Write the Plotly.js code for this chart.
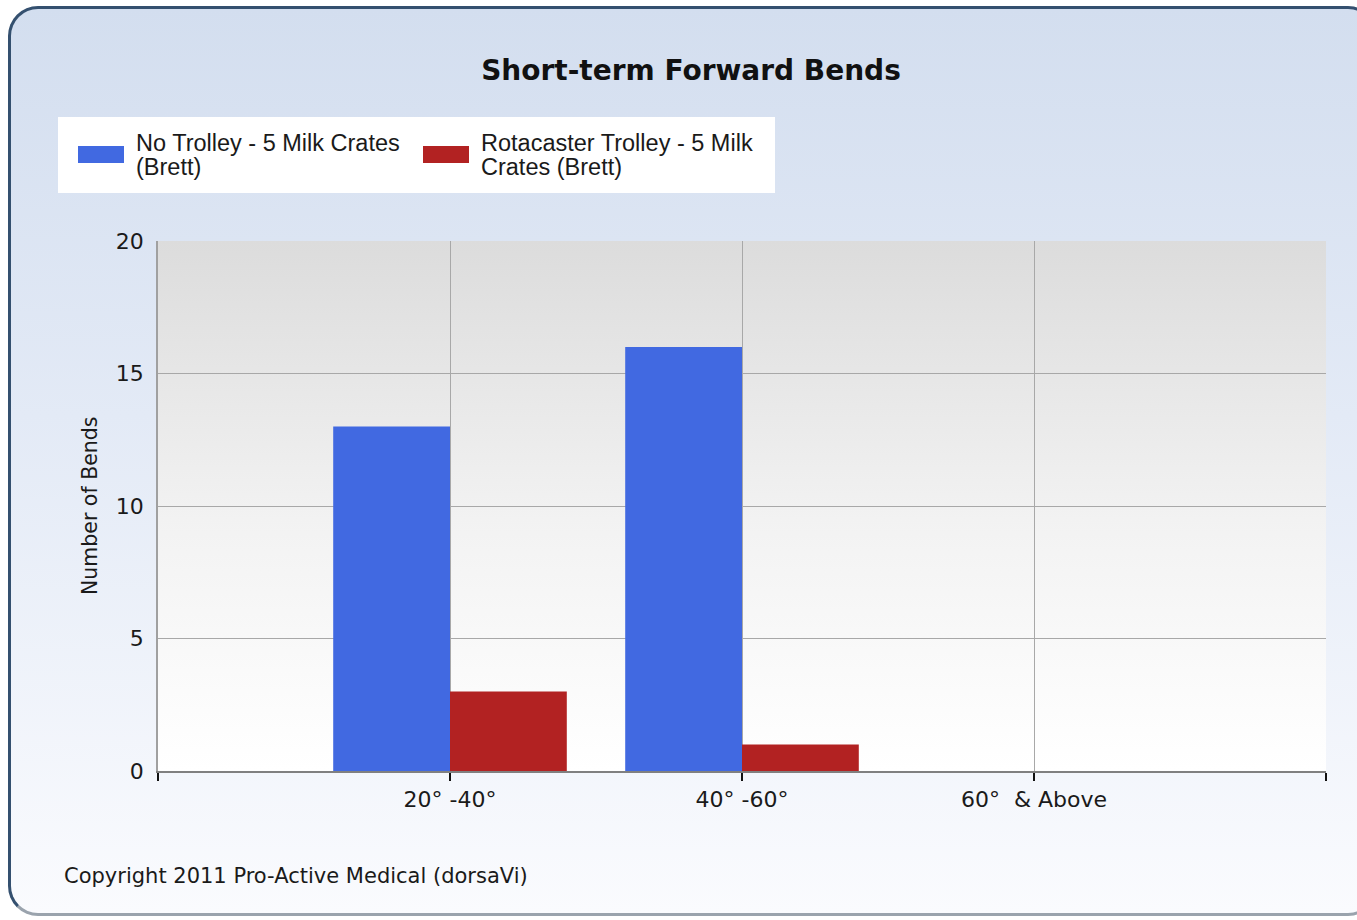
<!DOCTYPE html>
<html>
<head>
<meta charset="utf-8">
<script src="https://cdn.plot.ly/plotly-3.0.1.min.js"></script>
<style>
  html, body { margin: 0; padding: 0; width: 1357px; height: 920px; overflow: hidden; background: #ffffff; }
  #frame {
    position: absolute; left: 8px; top: 6px; width: 1370px; height: 910px;
    border: 3px solid #34506f; border-bottom-color: #9aa3ad; border-radius: 30px;
    background: linear-gradient(to bottom, #d3deef 0%, #e3eaf6 45%, #fafbfe 100%);
    box-sizing: border-box;
  }
  #plotbg {
    position: absolute; left: 158px; top: 241px; width: 1168px; height: 530px;
    background: linear-gradient(to bottom, #dcdcdc 0%, #f3f3f3 55%, #ffffff 100%);
  }
  #chart { position: absolute; left: 0; top: 0; width: 1357px; height: 920px; }
</style>
</head>
<body>
<div id="frame"></div>
<div id="plotbg"></div>
<div id="chart"></div>
<script>
// ---- data ----
const categories = ["20° -40°", "40° -60°", "60°  & Above"];
const seriesNames = ["No Trolley - 5 Milk Crates (Brett)", "Rotacaster Trolley - 5 Milk Crates (Brett)"];
const legendLines = [["No Trolley - 5 Milk Crates", "(Brett)"], ["Rotacaster Trolley - 5 Milk", "Crates (Brett)"]];
const noTrolley = [13, 16, 0];
const rotacaster = [3, 1, 0];
const seriesColors = ["#4169e1", "#b22222"];
const yTicks = [0, 5, 10, 15, 20];
const chartTitle = "Short-term Forward Bends";
const yTitle = "Number of Bends";
const copyright = "Copyright 2011 Pro-Active Medical (dorsaVi)";

// ---- layout helpers ----
const W = 1357, H = 920;
const M = { l: 158, r: 31, t: 241, b: 149 };
const PW = W - M.l - M.r, PH = H - M.t - M.b;
const px = x => (x - M.l) / PW;
const py = y => (H - M.b - y) / PH;

const xIdx = categories.map((c, i) => i);
const tickVals = [-1].concat(xIdx).concat([categories.length]);
const tickText = [""].concat(categories).concat([""]);

const font = "DejaVu Sans, Verdana, sans-serif";
const legendFont = { family: "Liberation Sans, Arial, sans-serif", size: 23.5, color: "#1a1a1a" };

const traces = [noTrolley, rotacaster].map((vals, k) => ({
  type: "bar",
  name: seriesNames[k],
  x: xIdx,
  y: vals,
  marker: { color: seriesColors[k], line: { width: 0 } },
  showlegend: false,
  hoverinfo: "x+y+name"
}));

const shapes = [
  { type: "rect", xref: "paper", yref: "paper", x0: px(58), x1: px(775), y0: py(193), y1: py(117),
    fillcolor: "#ffffff", line: { width: 0 }, layer: "above" },
  { type: "rect", xref: "paper", yref: "paper", x0: px(78), x1: px(124), y0: py(163), y1: py(146),
    fillcolor: seriesColors[0], line: { width: 0 }, layer: "above" },
  { type: "rect", xref: "paper", yref: "paper", x0: px(423), x1: px(469), y0: py(163), y1: py(146),
    fillcolor: seriesColors[1], line: { width: 0 }, layer: "above" }
];

const legendX = [134, 479];
const lineY = [143, 167];
const annotations = [];
legendLines.forEach((lines, k) => {
  lines.forEach((t, j) => {
    annotations.push({ xref: "paper", yref: "paper", x: px(legendX[k]), y: py(lineY[j]),
      xanchor: "left", yanchor: "middle", text: t, showarrow: false, font: legendFont });
  });
});
annotations.push(
  { xref: "paper", yref: "paper", x: px(90), y: py(506), xanchor: "center", yanchor: "middle",
    text: yTitle, textangle: -90, showarrow: false,
    font: { family: font, size: 20.5, color: "#1a1a1a" } },
  { xref: "paper", yref: "paper", x: px(62), y: py(876), xanchor: "left", yanchor: "middle",
    text: copyright, showarrow: false,
    font: { family: font, size: 21, color: "#1a1a1a" } }
);

const layout = {
  width: W, height: H,
  margin: M,
  paper_bgcolor: "rgba(0,0,0,0)",
  plot_bgcolor: "rgba(0,0,0,0)",
  title: { text: "<b>" + chartTitle + "</b>", xref: "container", yref: "container",
    x: 691 / W, y: 1 - 70 / H, xanchor: "center", yanchor: "middle",
    font: { family: font, size: 28, color: "#111111" } },
  barmode: "group",
  bargap: 0.2,
  bargroupgap: 0,
  showlegend: false,
  xaxis: {
    type: "linear", range: [-1, categories.length], tickvals: tickVals, ticktext: tickText,
    showgrid: true, gridcolor: "#a8a8a8", gridwidth: 1,
    showline: true, linecolor: "#808080", linewidth: 1.5,
    ticks: "outside", ticklen: 8, tickcolor: "#111111", tickwidth: 2,
    tickfont: { family: font, size: 22, color: "#1a1a1a" },
    zeroline: false, fixedrange: true
  },
  yaxis: {
    range: [0, 20], tickvals: yTicks,
    showgrid: true, gridcolor: "#a8a8a8", gridwidth: 1,
    showline: true, linecolor: "#a0a0a0", linewidth: 1.5,
    ticks: "", ticklabelstandoff: 8,
    tickfont: { family: font, size: 22, color: "#1a1a1a" },
    zeroline: false, fixedrange: true
  },
  shapes: shapes,
  annotations: annotations
};

Plotly.newPlot("chart", traces, layout, { displayModeBar: false });
</script>
</body>
</html>
